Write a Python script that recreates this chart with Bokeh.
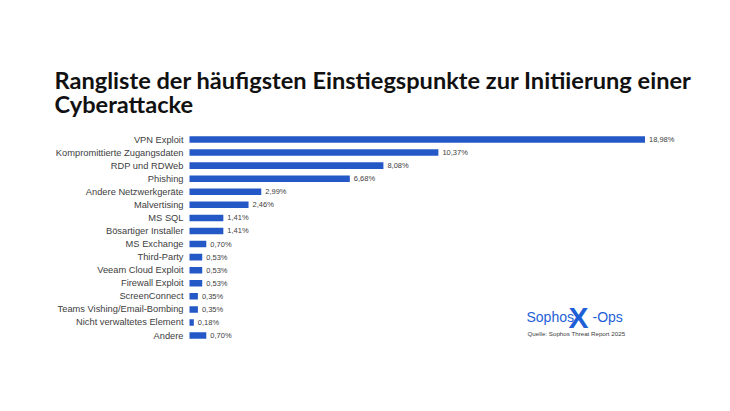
from bokeh.plotting import figure
from bokeh.models import Range1d, ColumnDataSource, Label
from bokeh.core.properties import value
from bokeh.embed import file_html
from bokeh.resources import INLINE

categories = ["VPN Exploit", "Kompromittierte Zugangsdaten", "RDP und RDWeb", "Phishing",
              "Andere Netzwerkgeräte", "Malvertising", "MS SQL", "Bösartiger Installer",
              "MS Exchange", "Third-Party", "Veeam Cloud Exploit", "Firewall Exploit",
              "ScreenConnect", "Teams Vishing/Email-Bombing", "Nicht verwaltetes Element", "Andere"]
values = [18.98, 10.37, 8.08, 6.68, 2.99, 2.46, 1.41, 1.41, 0.70, 0.53, 0.53, 0.53, 0.35, 0.35, 0.18, 0.70]
value_labels = [f"{v:.2f}".replace(".", ",") + "%" for v in values]
title_lines = ["Rangliste der häufigsten Einstiegspunkte zur Initiierung einer", "Cyberattacke"]
source_text = "Quelle: Sophos Threat Report 2025"

W, H = 730, 411
px_per_unit = 24.0
x0_px = 189.0
row_px = 13.07
y0_px = 139.0

p = figure(width=W, height=H, output_backend="svg", toolbar_location=None,
           x_range=Range1d(-x0_px / px_per_unit, (W - x0_px) / px_per_unit),
           y_range=Range1d((H - y0_px) / row_px, -y0_px / row_px),
           min_border=0, outline_line_color=None, background_fill_color="white",
           border_fill_color="white")
p.axis.visible = False
p.grid.visible = False

rows = list(range(len(categories)))
src = ColumnDataSource(dict(y=rows, v=values, cat=categories, lab=value_labels,
                            lx=[-6 / px_per_unit] * len(rows),
                            vx=[v + 4 / px_per_unit for v in values]))

p.hbar(y="y", left=0, right="v", height=0.5, source=src, fill_color="#2458C6", line_color=None)
p.text(x="lx", y="y", text="cat", source=src, text_align="right", text_baseline="middle",
       text_font=value("Liberation Sans"), text_font_size="9.3px", text_color="#404040")
p.text(x="vx", y="y", text="lab", source=src, text_align="left", text_baseline="middle",
       text_font=value("Liberation Sans"), text_font_size="7.5px", text_color="#404040")

for i, t in enumerate(title_lines):
    p.add_layout(Label(x=54, y=H - 79 - i * 24, x_units="screen", y_units="screen", text=t,
                       text_font="Lato", text_font_style="bold", text_font_size="23.6px",
                       text_color="#111111", text_baseline="alphabetic"))

# logo
blue = "#1F5FD6"
p.add_layout(Label(x=526, y=H - 316, x_units="screen", y_units="screen", text="Sophos",
                   text_font="Liberation Sans", text_font_size="14px", text_color=blue,
                   text_baseline="alphabetic"))
p.add_layout(Label(x=568, y=H - 317, x_units="screen", y_units="screen", text="X",
                   text_font="Liberation Sans", text_font_style="bold", text_font_size="30px",
                   text_color=blue, text_baseline="alphabetic"))
p.add_layout(Label(x=592, y=H - 316, x_units="screen", y_units="screen", text="-Ops",
                   text_font="Liberation Sans", text_font_size="14px", text_color=blue,
                   text_baseline="alphabetic"))
p.add_layout(Label(x=527, y=H - 333, x_units="screen", y_units="screen", text=source_text,
                   text_font="Liberation Sans", text_font_size="6.2px", text_color="#404040",
                   text_baseline="alphabetic"))

open("out.html", "w").write(file_html(p, INLINE))
